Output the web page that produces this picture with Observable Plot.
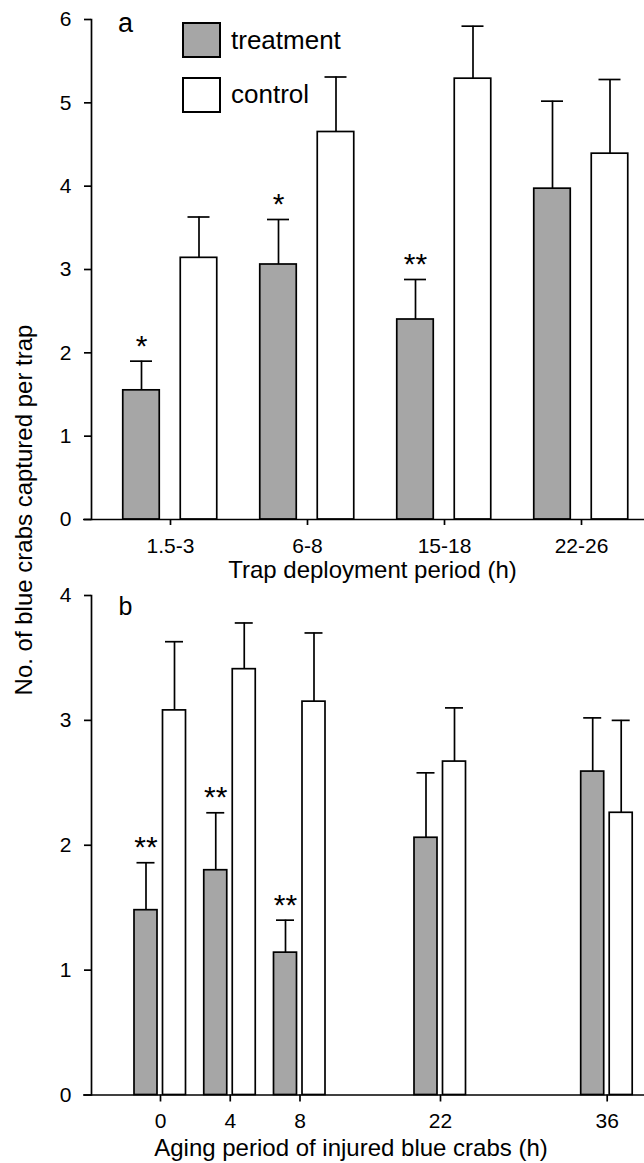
<!DOCTYPE html>
<html><head><meta charset="utf-8">
<script src="https://cdn.jsdelivr.net/npm/d3@7"></script>
<script src="https://cdn.jsdelivr.net/npm/@observablehq/plot@0.6"></script>
<style>
body{margin:0;background:#fff;overflow:hidden;font-family:"Liberation Sans",Arial,sans-serif;}
#wrap{position:relative;width:644px;height:1163px;}
#wrap svg{display:block;}
.box{position:absolute;box-sizing:border-box;border:2px solid #000;}
.lt{position:absolute;font-size:26px;line-height:1;white-space:nowrap;color:#000;}
#ylab{position:absolute;font-size:24px;line-height:1;white-space:nowrap;transform:translate(-50%,-50%) rotate(-90deg);}
</style></head><body><div id="wrap"></div>
<script>
// Panel a: trap deployment period
const groupsA = ["1.5-3", "6-8", "15-18", "22-26"];
const treatA = [1.55, 3.06, 2.40, 3.97];
const treatAErr = [1.90, 3.60, 2.88, 5.02];
const ctrlA = [3.14, 4.65, 5.29, 4.39];
const ctrlAErr = [3.63, 5.31, 5.92, 5.28];
const sigA = ["*", "*", "**", ""];
const yTicksA = [0, 1, 2, 3, 4, 5, 6];

// Panel b: aging period of injured blue crabs
const agingB = [0, 4, 8, 22, 36];
const treatB = [1.48, 1.80, 1.14, 2.06, 2.59];
const treatBErr = [1.86, 2.26, 1.40, 2.58, 3.02];
const ctrlB = [3.08, 3.41, 3.15, 2.67, 2.26];
const ctrlBErr = [3.63, 3.78, 3.70, 3.10, 3.00];
const sigB = ["**", "**", "**", "", ""];
const yTicksB = [0, 1, 2, 3, 4];

const seriesNames = ["treatment", "control"];
const fills = {treatment: "#a6a6a6", control: "#ffffff"};

function rows(keys, t, te, c, ce, sig) {
  return keys.flatMap((k, i) => [
    {k, s: "treatment", v: t[i], e: te[i], sig: sig[i]},
    {k, s: "control", v: c[i], e: ce[i], sig: ""}
  ]);
}
const rowsA = rows(groupsA, treatA, treatAErr, ctrlA, ctrlAErr, sigA);
const rowsB = rows(agingB, treatB, treatBErr, ctrlB, ctrlBErr, sigB);

const SW = 1.7;
const style = {fontFamily: "'Liberation Sans', Arial, sans-serif", fontSize: "21px", color: "black", background: "white", overflow: "visible"};
const fmt = d3.format("d");

function barMarks(data, offsets, barW, capW) {
  return seriesNames.flatMap(s => {
    const d = data.filter(r => r.s === s);
    const dx = offsets[s];
    return [
      Plot.ruleX(d, {x: "k", y1: "v", y2: "e", dx, stroke: "black", strokeWidth: SW}),
      Plot.ruleY(d, {y: "e", x1: "k", x2: "k", insetLeft: -capW / 2, insetRight: -capW / 2, dx, stroke: "black", strokeWidth: SW}),
      Plot.rect(d, {x1: "k", x2: "k", y1: () => 0, y2: "v", insetLeft: -barW / 2, insetRight: -barW / 2, dx, fill: fills[s], stroke: "black", strokeWidth: SW}),
      Plot.text(d.filter(r => r.sig), {x: "k", y: "e", text: "sig", dx, dy: -15, fontSize: 30})
    ];
  });
}

const plotA = Plot.plot({
  width: 644, height: 585,
  marginTop: 19, marginBottom: 66, marginLeft: 91, marginRight: 0,
  style,
  x: {type: "point", domain: groupsA, range: [169, 582.3], padding: 0},
  y: {domain: [0, 6]},
  marks: [
    ...barMarks(rowsA, {treatment: -29, control: 28.5}, 36.5, 22),
    Plot.ruleY([0], {insetLeft: -8, stroke: "black", strokeWidth: SW}),
    Plot.frame({anchor: "left", stroke: "black", strokeWidth: SW}),
    Plot.axisY({ticks: yTicksA, tickFormat: fmt, tickSize: 7, tickPadding: 13, label: null, strokeWidth: SW}),
    Plot.axisX({ticks: groupsA, tickSize: 6, tickPadding: 13, label: null, strokeWidth: SW}),
    Plot.text(["Trap deployment period (h)"], {frameAnchor: "bottom", lineAnchor: "top", text: d => d, dx: 4.5, dy: 41, fontSize: 24}),
    Plot.text(["a"], {frameAnchor: "top-left", textAnchor: "middle", lineAnchor: "top", text: d => d, dx: 34, dy: -6.5, fontSize: 27})
  ]
});

const plotB = Plot.plot({
  width: 644, height: 578,
  marginTop: 10, marginBottom: 68.5, marginLeft: 91, marginRight: 0,
  style,
  x: {type: "linear", domain: [0, 8, 22, 36], range: [160, 299.5, 440, 606.7]},
  y: {domain: [0, 4]},
  marks: [
    ...barMarks(rowsB, {treatment: -14.5, control: 14}, 23, 18),
    Plot.ruleY([0], {insetLeft: -8, stroke: "black", strokeWidth: SW}),
    Plot.frame({anchor: "left", stroke: "black", strokeWidth: SW}),
    Plot.axisY({ticks: yTicksB, tickFormat: fmt, tickSize: 7, tickPadding: 13, label: null, strokeWidth: SW}),
    Plot.axisX({ticks: agingB, tickFormat: fmt, tickSize: 7, tickPadding: 11, label: null, strokeWidth: SW}),
    Plot.text(["Aging period of injured blue crabs (h)"], {frameAnchor: "bottom", lineAnchor: "top", text: d => d, dx: -17, dy: 44, fontSize: 24}),
    Plot.text(["b"], {frameAnchor: "top-left", textAnchor: "middle", lineAnchor: "top", text: d => d, dx: 34, dy: 2, fontSize: 25})
  ]
});

const wrap = document.getElementById("wrap");
wrap.append(plotA, plotB);

// legend (panel a)
const legend = [
  {name: "treatment", top: 21.7, h: 36.6, textTop: 27},
  {name: "control", top: 76.7, h: 36, textTop: 81}
];
for (const l of legend) {
  const b = document.createElement("div");
  b.className = "box";
  Object.assign(b.style, {left: "182px", top: l.top + "px", width: "39px", height: l.h + "px", background: fills[l.name]});
  wrap.append(b);
  const t = document.createElement("div");
  t.className = "lt";
  t.textContent = l.name;
  Object.assign(t.style, {left: "231px", top: l.textTop + "px"});
  wrap.append(t);
}

// shared y-axis title
const yl = document.createElement("div");
yl.id = "ylab";
yl.textContent = "No. of blue crabs captured per trap";
Object.assign(yl.style, {left: "24px", top: "510px"});
wrap.append(yl);
</script>
</body></html>
